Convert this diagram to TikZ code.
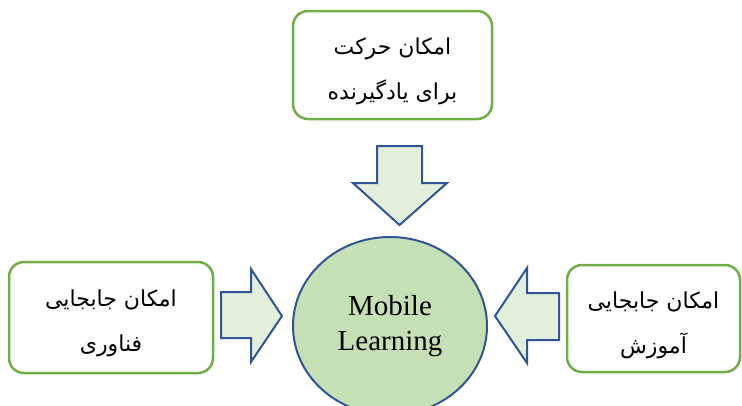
\documentclass[tikz,border=0pt]{standalone}
\usepackage{fontspec}
\setmainfont{Liberation Serif}
\newfontfamily\fa[Script=Arabic]{DejaVu Sans}
\TeXXeTstate=1
\usetikzlibrary{shapes.geometric}
\definecolor{boxgreen}{RGB}{112,173,71}
\definecolor{arrblue}{RGB}{47,85,151}
\definecolor{arrfill}{RGB}{226,239,218}
\definecolor{ellfill}{RGB}{197,224,180}
\begin{document}
\begin{tikzpicture}[x=1pt,y=-1pt,
  box/.style={draw=boxgreen, line width=2.5pt, rounded corners=15pt, fill=white},
  boxtext/.style={align=center, inner sep=0pt, font=\fa\fontsize{22}{45}\selectfont},
  blockarrow/.style={draw=arrblue, line width=2pt, fill=arrfill, line join=miter}]
\useasboundingbox (0,0) rectangle (742,405);
\clip (0,0) rectangle (742,405);
\node[box, minimum width=199pt, minimum height=108pt] (top) at (392.5,65) {};
\node[boxtext] (toptext) at (392.5,71)
  {\beginR امکان حرکت\endR\\\beginR برای یادگیرنده\endR};
\node[box, minimum width=204pt, minimum height=111pt] (left) at (111,317.5) {};
\node[boxtext] (lefttext) at (111,323)
  {\beginR امکان جابجایی\endR\\\beginR فناوری\endR};
\node[box, minimum width=173pt, minimum height=107pt] (right) at (653.5,318.5) {};
\node[boxtext] (righttext) at (653.5,325)
  {\beginR امکان جابجایی\endR\\\beginR آموزش\endR};
\node[ellipse, draw=arrblue, line width=2pt, fill=ellfill, minimum width=194pt,
  minimum height=178pt, align=center, font=\fontsize{29}{35}\selectfont] (ml) at (390,326)
  {Mobile\\Learning};
\draw[blockarrow] (377,146) -- (422,146) -- (422,183) -- (447,183) -- (399.5,225)
  -- (353,183) -- (377,183) -- cycle;
\draw[blockarrow] (221,292) -- (251,292) -- (251,269) -- (282,316) -- (251,362)
  -- (251,338) -- (221,338) -- cycle;
\draw[blockarrow] (559,293) -- (527,293) -- (527,268) -- (495,316) -- (527,363)
  -- (527,340) -- (559,340) -- cycle;
\end{tikzpicture}
\end{document}
